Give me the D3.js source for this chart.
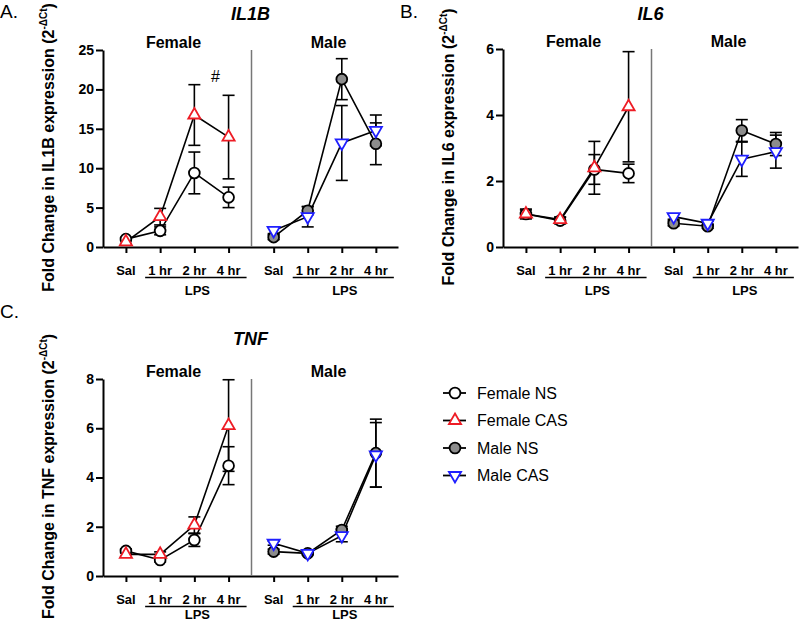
<!DOCTYPE html>
<html>
<head>
<meta charset="utf-8">
<script src="https://cdn.jsdelivr.net/npm/d3@7"></script>
<style>
  body { margin: 0; background: #fff; }
  svg { display: block; font-family: "Liberation Sans", Arial, sans-serif; }
</style>
</head>
<body>
<svg id="chart" width="800" height="623"></svg>
<script>
// categories
const timepoints = ["Sal", "1 hr", "2 hr", "4 hr"];
const groups = ["Female NS", "Female CAS", "Male NS", "Male CAS"];

// means, rows in the order of groups
const il1bMean = [[1.0, 2.05, 9.4, 6.3], [0.65, 3.85, 16.75, 13.95], [1.25, 4.6, 21.3, 13.1], [2.1, 3.85, 13.2, 14.8]];
const il1bSem  = [[0.2, 0.5, 2.65, 1.3], [0.2, 1.05, 3.85, 5.3], [0.3, 0.5, 2.6, 2.65], [0.4, 1.3, 4.75, 1.95]];
const il6Mean  = [[1.0, 0.8, 2.35, 2.23], [1.0, 0.83, 2.4, 4.25], [0.72, 0.63, 3.53, 3.12], [0.92, 0.72, 2.66, 2.89]];
const il6Sem   = [[0.15, 0.1, 0.45, 0.28], [0.12, 0.08, 0.8, 1.67], [0.08, 0.06, 0.33, 0.35], [0.08, 0.06, 0.52, 0.5]];
const tnfMean  = [[1.02, 0.65, 1.46, 4.48], [0.88, 0.88, 2.07, 6.11], [0.99, 0.92, 1.87, 4.99], [1.33, 0.92, 1.64, 4.92]];
const tnfSem   = [[0.08, 0.08, 0.26, 0.77], [0.08, 0.1, 0.33, 1.86], [0.1, 0.05, 0.15, 1.38], [0.08, 0.05, 0.25, 1.31]];

// tick labels
const il1bTicks = [0, 5, 10, 15, 20, 25];
const il6Ticks = [0, 2, 4, 6];
const tnfTicks = [0, 2, 4, 6, 8];

const RED = "#ee1c25", BLUE = "#1f1fff", GREY = "#8c8c8c";
const styles = [
  { shape: "circle", fill: "#fff", stroke: "#000" },
  { shape: "up", fill: "#fff", stroke: RED },
  { shape: "circle", fill: GREY, stroke: "#000" },
  { shape: "down", fill: "#fff", stroke: BLUE }
];

const panels = [
  { tag: "A.", tagX: 0, tagY: 18, gene: "IL1B", titleY: 20, left: 103, right: 398, top: 50, bottom: 247,
    ticks: il1bTicks, mean: il1bMean, sem: il1bSem, hash: true },
  { tag: "B.", tagX: 400, tagY: 18, gene: "IL6", titleY: 20, left: 503, right: 798, top: 49, bottom: 247,
    ticks: il6Ticks, mean: il6Mean, sem: il6Sem, hash: false },
  { tag: "C.", tagX: 0, tagY: 318, gene: "TNF", titleY: 345, left: 103, right: 398, top: 379, bottom: 576,
    ticks: tnfTicks, mean: tnfMean, sem: tnfSem, hash: false }
];

const svg = d3.select("#chart");

function marker(sel, st) {
  if (st.shape === "circle") {
    sel.append("circle").attr("r", 5.4);
  } else {
    sel.append("path")
      .attr("d", d3.symbol(d3.symbolTriangle, 64)())
      .attr("transform", st.shape === "down" ? "rotate(180)" : null);
  }
  sel.selectAll("circle,path")
    .attr("fill", st.fill).attr("stroke", st.stroke).attr("stroke-width", 1.8);
}

panels.forEach(p => {
  const g = svg.append("g");
  const mid = (p.left + p.right) / 2 + 1;
  const y = d3.scaleLinear().domain([0, d3.max(p.ticks)]).range([p.bottom, p.top]);
  const xF = d3.scalePoint().domain(timepoints).range([p.left, mid]).padding(0.67);
  const xM = d3.scalePoint().domain(timepoints).range([mid, p.right]).padding(0.65);

  // panel letter and gene title
  g.append("text").attr("x", p.tagX).attr("y", p.tagY)
    .attr("font-size", 19).text(p.tag);
  g.append("text").attr("x", (p.left + p.right) / 2).attr("y", p.titleY)
    .attr("text-anchor", "middle").attr("font-size", 18)
    .attr("font-weight", "bold").attr("font-style", "italic").text(p.gene);

  // sex headings
  [["Female", mid - 78], ["Male", mid + 77]].forEach(([t, x]) => {
    g.append("text").attr("x", x).attr("y", p.top - 2).attr("text-anchor", "middle")
      .attr("font-size", 16).attr("font-weight", "bold").text(t);
  });

  // y axis label
  const yl = g.append("text")
    .attr("transform", `translate(${p.left - 49},${(p.top + p.bottom) / 2 - 1}) rotate(-90)`)
    .attr("text-anchor", "middle").attr("font-size", 16).attr("font-weight", "bold");
  yl.append("tspan").text("Fold Change in " + p.gene + " expression (2");
  yl.append("tspan").attr("font-size", 10).attr("dy", -7).text("-\u0394Ct");
  yl.append("tspan").attr("dy", 7).text(")");

  // y axis
  const ya = g.append("g").attr("transform", `translate(${p.left},0)`)
    .call(d3.axisLeft(y).tickValues(p.ticks).tickFormat(d3.format("d"))
      .tickSize(7).tickPadding(2).tickSizeOuter(0));
  ya.select(".domain").attr("stroke-width", 2);
  ya.selectAll(".tick line").attr("stroke-width", 2);
  ya.selectAll("text").attr("font-size", 14).attr("font-weight", "bold")
    .attr("font-family", "Liberation Sans, Arial, sans-serif").attr("fill", "#000");

  // x axes (two halves)
  const lpsY = p.bottom + Math.min(48, 619 - p.bottom);
  [xF, xM].forEach(x => {
    const xa = g.append("g").attr("transform", `translate(0,${p.bottom})`)
      .call(d3.axisBottom(x).tickSize(6).tickSizeOuter(0).tickFormat(""));
    xa.select(".domain").attr("stroke-width", 2);
    xa.selectAll(".tick line").attr("stroke-width", 2);
    timepoints.forEach(t => {
      g.append("text").attr("x", x(t)).attr("y", p.bottom + 28).attr("text-anchor", "middle")
        .attr("font-size", 13).attr("font-weight", "bold").text(t);
    });
    g.append("line").attr("x1", x("1 hr") - 15).attr("x2", x("4 hr") + 18)
      .attr("y1", p.bottom + 30.5).attr("y2", p.bottom + 30.5)
      .attr("stroke", "#000").attr("stroke-width", 1.6);
    g.append("text").attr("x", (x("1 hr") + x("4 hr")) / 2 + 3).attr("y", lpsY)
      .attr("text-anchor", "middle").attr("font-size", 13).attr("font-weight", "bold").text("LPS");
  });

  // divider
  g.append("line").attr("x1", mid).attr("x2", mid).attr("y1", p.top).attr("y2", p.bottom)
    .attr("stroke", "#777").attr("stroke-width", 1.5);

  if (p.hash) {
    g.append("text").attr("x", (xF("2 hr") + xF("4 hr")) / 2 + 4).attr("y", y(20.9))
      .attr("text-anchor", "middle").attr("font-size", 16).text("#");
  }

  // series
  groups.forEach((name, gi) => {
    const x = gi < 2 ? xF : xM;
    const pts = timepoints.map((t, i) => ({ x: x(t), m: p.mean[gi][i], s: p.sem[gi][i] }));
    const eb = g.append("g").attr("stroke", "#000").attr("stroke-width", 1.6);
    pts.forEach(d => {
      eb.append("line").attr("x1", d.x).attr("x2", d.x).attr("y1", y(d.m - d.s)).attr("y2", y(d.m + d.s));
      [d.m - d.s, d.m + d.s].forEach(v => {
        eb.append("line").attr("x1", d.x - 6).attr("x2", d.x + 6).attr("y1", y(v)).attr("y2", y(v));
      });
    });
    g.append("path").datum(pts)
      .attr("d", d3.line().x(d => d.x).y(d => y(d.m)))
      .attr("fill", "none").attr("stroke", "#000").attr("stroke-width", 1.6);
  });
  groups.forEach((name, gi) => {
    const x = gi < 2 ? xF : xM;
    timepoints.forEach((t, i) => {
      const mg = g.append("g").attr("transform", `translate(${x(t)},${y(p.mean[gi][i])})`);
      marker(mg, styles[gi]);
    });
  });
});

// legend
const legend = svg.append("g").attr("transform", "translate(455,393)");
groups.forEach((name, gi) => {
  const row = legend.append("g").attr("transform", `translate(0,${gi * 27.5})`);
  row.append("line").attr("x1", -12).attr("x2", 11).attr("stroke", "#000").attr("stroke-width", 1.8);
  marker(row, styles[gi]);
  row.append("text").attr("x", 22).attr("y", 5.5).attr("font-size", 16).text(name);
});
</script>
</body>
</html>
